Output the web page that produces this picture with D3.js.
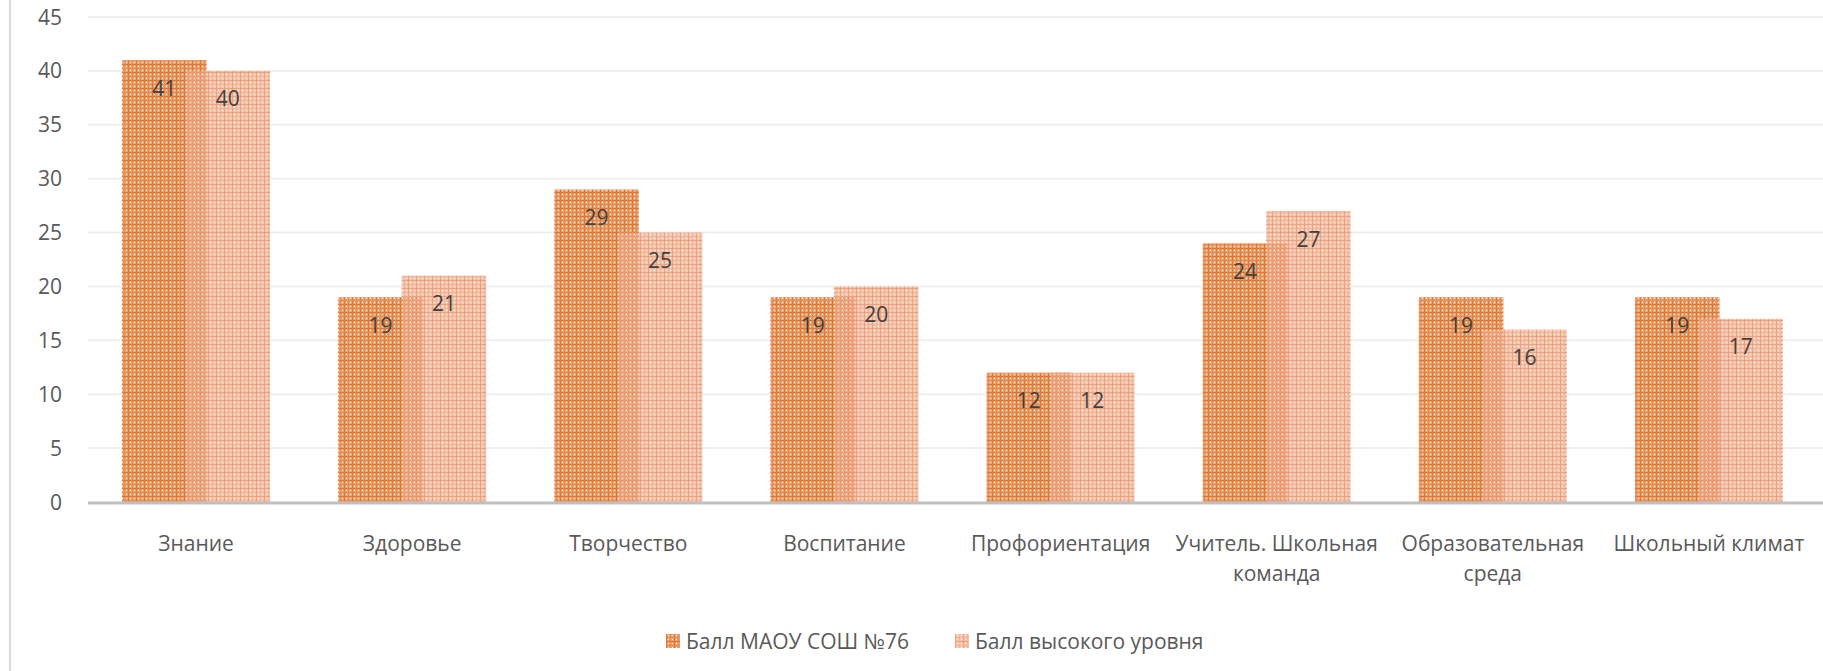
<!DOCTYPE html>
<html>
<meta charset="UTF-8">
<head>
    <script src="https://d3js.org/d3.v7.min.js"></script>
    <style>
        body {
            margin: 0;
            background: white;
            font-family: "Open Sans", sans-serif;
        }
    </style>
</head>
<body>
</body>
<script>
    // data
    let categories = ["Знание", "Здоровье", "Творчество", "Воспитание", "Профориентация",
        "Учитель. Школьная\nкоманда", "Образовательная\nсреда", "Школьный климат"];
    let seriesNames = ["Балл МАОУ СОШ №76", "Балл высокого уровня"];
    let schoolScores = [41, 19, 29, 19, 12, 24, 19, 19];
    let highScores = [40, 21, 25, 20, 12, 27, 16, 17];
    let yTicks = [0, 5, 10, 15, 20, 25, 30, 35, 40, 45];

    let width = 1823;
    let height = 671;

    let svg = d3.select("body").append("svg")
        .attr("width", width)
        .attr("height", height);

    // pattern fills, like the excel plaid patterns
    let defs = svg.append("defs");

    function makePattern(id, base, line, opacity) {
        let p = defs.append("pattern")
            .attr("id", id)
            .attr("patternUnits", "userSpaceOnUse")
            .attr("width", 8)
            .attr("height", 8);
        p.append("rect").attr("width", 8).attr("height", 8).attr("fill", base).attr("fill-opacity", opacity);
        p.append("rect").attr("x", 0).attr("width", 1).attr("height", 8).attr("fill", line).attr("fill-opacity", opacity);
        p.append("rect").attr("y", 0).attr("width", 8).attr("height", 1).attr("fill", line).attr("fill-opacity", opacity);
        p.append("rect").attr("x", 4).attr("width", 1).attr("height", 8).attr("fill", line).attr("fill-opacity", opacity * 0.35);
        p.append("rect").attr("y", 4).attr("width", 8).attr("height", 1).attr("fill", line).attr("fill-opacity", opacity * 0.35);
        p.append("rect").attr("x", 2).attr("y", 2).attr("width", 1).attr("height", 1).attr("fill", "white");
        p.append("rect").attr("x", 6).attr("y", 6).attr("width", 1).attr("height", 1).attr("fill", "white");
        p.append("rect").attr("x", 2).attr("y", 6).attr("width", 1).attr("height", 1).attr("fill", "white").attr("fill-opacity", 0.7);
        p.append("rect").attr("x", 6).attr("y", 2).attr("width", 1).attr("height", 1).attr("fill", "white").attr("fill-opacity", 0.7);
    }
    makePattern("pat1", "#e9a06e", "#e07630", 1);
    makePattern("pat2", "#f2ab8b", "#ed946c", 0.7);

    let fills = ["url(#pat1)", "url(#pat2)"];

    let x0 = d3.scaleBand()
        .domain(categories)
        .range([88, 1817])
        .paddingInner(0.315)
        .paddingOuter(0.1575);

    let overlap = 0.25;
    let barWidth = x0.bandwidth() / (2 - overlap);

    let y = d3.scaleLinear()
        .domain([0, 45])
        .range([502, 17]);

    // left border of the chart frame
    svg.append("line")
        .attr("x1", 10).attr("x2", 10)
        .attr("y1", 0).attr("y2", height)
        .attr("stroke", "#d9d9d9")
        .attr("stroke-width", 2);

    // gridlines
    svg.append("g")
        .selectAll("line")
        .data(yTicks.filter(d => d > 0))
        .join("line")
        .attr("x1", 88).attr("x2", width)
        .attr("y1", d => y(d)).attr("y2", d => y(d))
        .attr("stroke", "#efefef")
        .attr("stroke-width", 2);

    // y tick labels
    svg.append("g")
        .selectAll("text")
        .data(yTicks)
        .join("text")
        .attr("x", 62)
        .attr("y", d => y(d))
        .attr("dy", "0.36em")
        .attr("text-anchor", "end")
        .attr("fill", "#595959")
        .attr("font-size", "21px")
        .text(d => d);

    let series = [schoolScores, highScores];

    series.forEach((values, i) => {
        let g = svg.append("g");
        g.selectAll("rect")
            .data(values)
            .join("rect")
            .attr("x", (d, j) => x0(categories[j]) + i * barWidth * (1 - overlap))
            .attr("y", d => y(d))
            .attr("width", barWidth)
            .attr("height", d => y(0) - y(d))
            .attr("fill", fills[i]);
    });

    // data labels on top so they are not covered
    series.forEach((values, i) => {
        svg.append("g")
            .selectAll("text")
            .data(values)
            .join("text")
            .attr("x", (d, j) => x0(categories[j]) + i * barWidth * (1 - overlap) + barWidth / 2)
            .attr("y", d => y(d) + 28)
            .attr("dy", "0.36em")
            .attr("text-anchor", "middle")
            .attr("fill", "#404040")
            .attr("font-size", "21px")
            .text(d => d);
    });

    // baseline
    svg.append("line")
        .attr("x1", 88).attr("x2", width)
        .attr("y1", y(0) + 1).attr("y2", y(0) + 1)
        .attr("stroke", "#bfbfbf")
        .attr("stroke-width", 3);

    // category labels
    let labels = svg.append("g")
        .selectAll("text")
        .data(categories)
        .join("text")
        .attr("text-anchor", "middle")
        .attr("fill", "#595959")
        .attr("font-size", "21px")
        .attr("transform", d => `translate(${x0(d) + x0.bandwidth() / 2}, 543)`);

    labels.selectAll("tspan")
        .data(d => d.split("\n"))
        .join("tspan")
        .attr("x", 0)
        .attr("y", (d, i) => i * 30)
        .attr("dy", "0.36em")
        .text(d => d);

    // legend
    let legendX = [666, 955];
    let legend = svg.append("g")
        .selectAll("g")
        .data(seriesNames)
        .join("g")
        .attr("transform", (d, i) => `translate(${legendX[i]}, 641)`);

    legend.append("rect")
        .attr("x", 0)
        .attr("y", -7)
        .attr("width", 14)
        .attr("height", 14)
        .attr("fill", (d, i) => fills[i]);

    legend.append("text")
        .attr("x", 20)
        .attr("dy", "0.36em")
        .attr("fill", "#595959")
        .attr("font-size", "21px")
        .text(d => d);
</script>
</html>
